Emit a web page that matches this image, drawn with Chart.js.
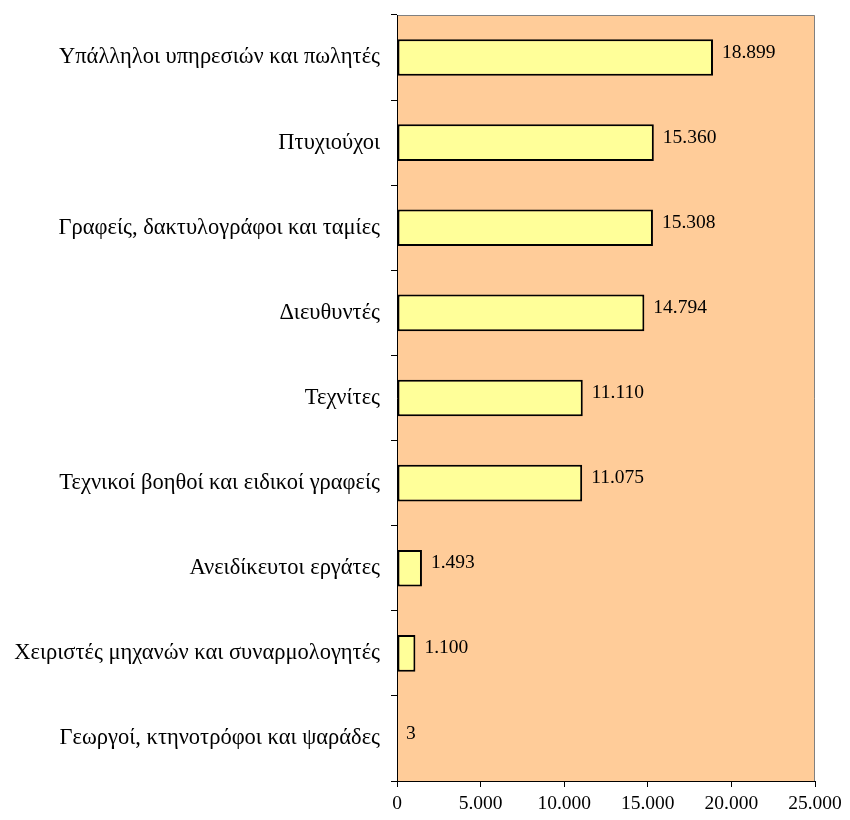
<!DOCTYPE html>
<html>
<head>
<meta charset="utf-8">
<script src="https://cdn.jsdelivr.net/npm/chart.js@4"></script>
<style>
html,body{margin:0;padding:0;background:#fff;}
#wrap{width:850px;height:820px;}
</style>
</head>
<body>
<div id="wrap"><canvas id="c" width="850" height="820"></canvas></div>
<script>
const categories = [
  "Υπάλληλοι υπηρεσιών και πωλητές",
  "Πτυχιούχοι",
  "Γραφείς, δακτυλογράφοι και ταμίες",
  "Διευθυντές",
  "Τεχνίτες",
  "Τεχνικοί βοηθοί και ειδικοί γραφείς",
  "Ανειδίκευτοι εργάτες",
  "Χειριστές μηχανών και συναρμολογητές",
  "Γεωργοί, κτηνοτρόφοι και ψαράδες"
];
const values = [18899, 15360, 15308, 14794, 11110, 11075, 1493, 1100, 3];
const xTicks = [0, 5000, 10000, 15000, 20000, 25000];

const FONT = "'Liberation Serif', 'Times New Roman', serif";
function fmt(v){ return String(v).replace(/\B(?=(\d{3})+(?!\d))/g, "."); }

const bgPlugin = {
  id: 'bg',
  beforeDraw(chart){
    const {ctx, chartArea:a} = chart;
    ctx.save();
    ctx.fillStyle = '#FFCC99';
    ctx.fillRect(a.left, a.top, a.right-a.left, a.bottom-a.top);
    ctx.strokeStyle = '#808080';
    ctx.lineWidth = 1;
    ctx.beginPath();
    ctx.moveTo(a.left, a.top+0.5);
    ctx.lineTo(a.right-0.5, a.top+0.5);
    ctx.lineTo(a.right-0.5, a.bottom);
    ctx.stroke();
    ctx.restore();
  }
};
const labelPlugin = {
  id: 'vlabels',
  afterDatasetsDraw(chart){
    const {ctx} = chart;
    const meta = chart.getDatasetMeta(0);
    ctx.save();
    ctx.font = "19.5px " + FONT;
    ctx.fillStyle = '#000';
    ctx.textAlign = 'left';
    ctx.textBaseline = 'middle';
    meta.data.forEach((bar, i) => {
      ctx.fillText(fmt(values[i]), bar.x + 9, bar.y - 5);
    });
    ctx.restore();
  }
};

new Chart(document.getElementById('c'), {
  type: 'bar',
  data: {
    labels: categories,
    datasets: [{
      data: values,
      backgroundColor: '#FFFF99',
      borderColor: '#000000',
      borderWidth: 2,
      borderSkipped: false,
      categoryPercentage: 1,
      barPercentage: 0.43
    }]
  },
  options: {
    indexAxis: 'y',
    responsive: false,
    animation: false,
    layout: { padding: { left: 0, right: 35, top: 15, bottom: 0 } },
    plugins: { legend: { display: false }, tooltip: { enabled: false } },
    scales: {
      x: {
        min: 0, max: 25000,
        afterBuildTicks(scale){ scale.ticks = xTicks.map(v => ({value: v})); },
        afterFit(scale){ scale.height = 39; scale.paddingLeft = 0; scale.paddingRight = 0; },
        grid: { drawOnChartArea: false, drawTicks: true, tickLength: 6, color: '#000' },
        border: { color: '#000', width: 1 },
        ticks: {
          color: '#000', font: { family: FONT, size: 19.5 }, padding: 5,
          maxRotation: 0, autoSkip: false,
          callback(v){ return fmt(v); }
        }
      },
      y: {
        afterFit(scale){ scale.width = 397; scale.paddingTop = 0; scale.paddingBottom = 0; },
        grid: { drawOnChartArea: false, drawTicks: true, tickLength: 6, color: '#000', offset: true },
        border: { color: '#000', width: 1 },
        ticks: { color: '#000', font: { family: FONT, size: 22.5 }, padding: 11, autoSkip: false }
      }
    }
  },
  plugins: [bgPlugin, labelPlugin]
});
</script>
</body>
</html>
